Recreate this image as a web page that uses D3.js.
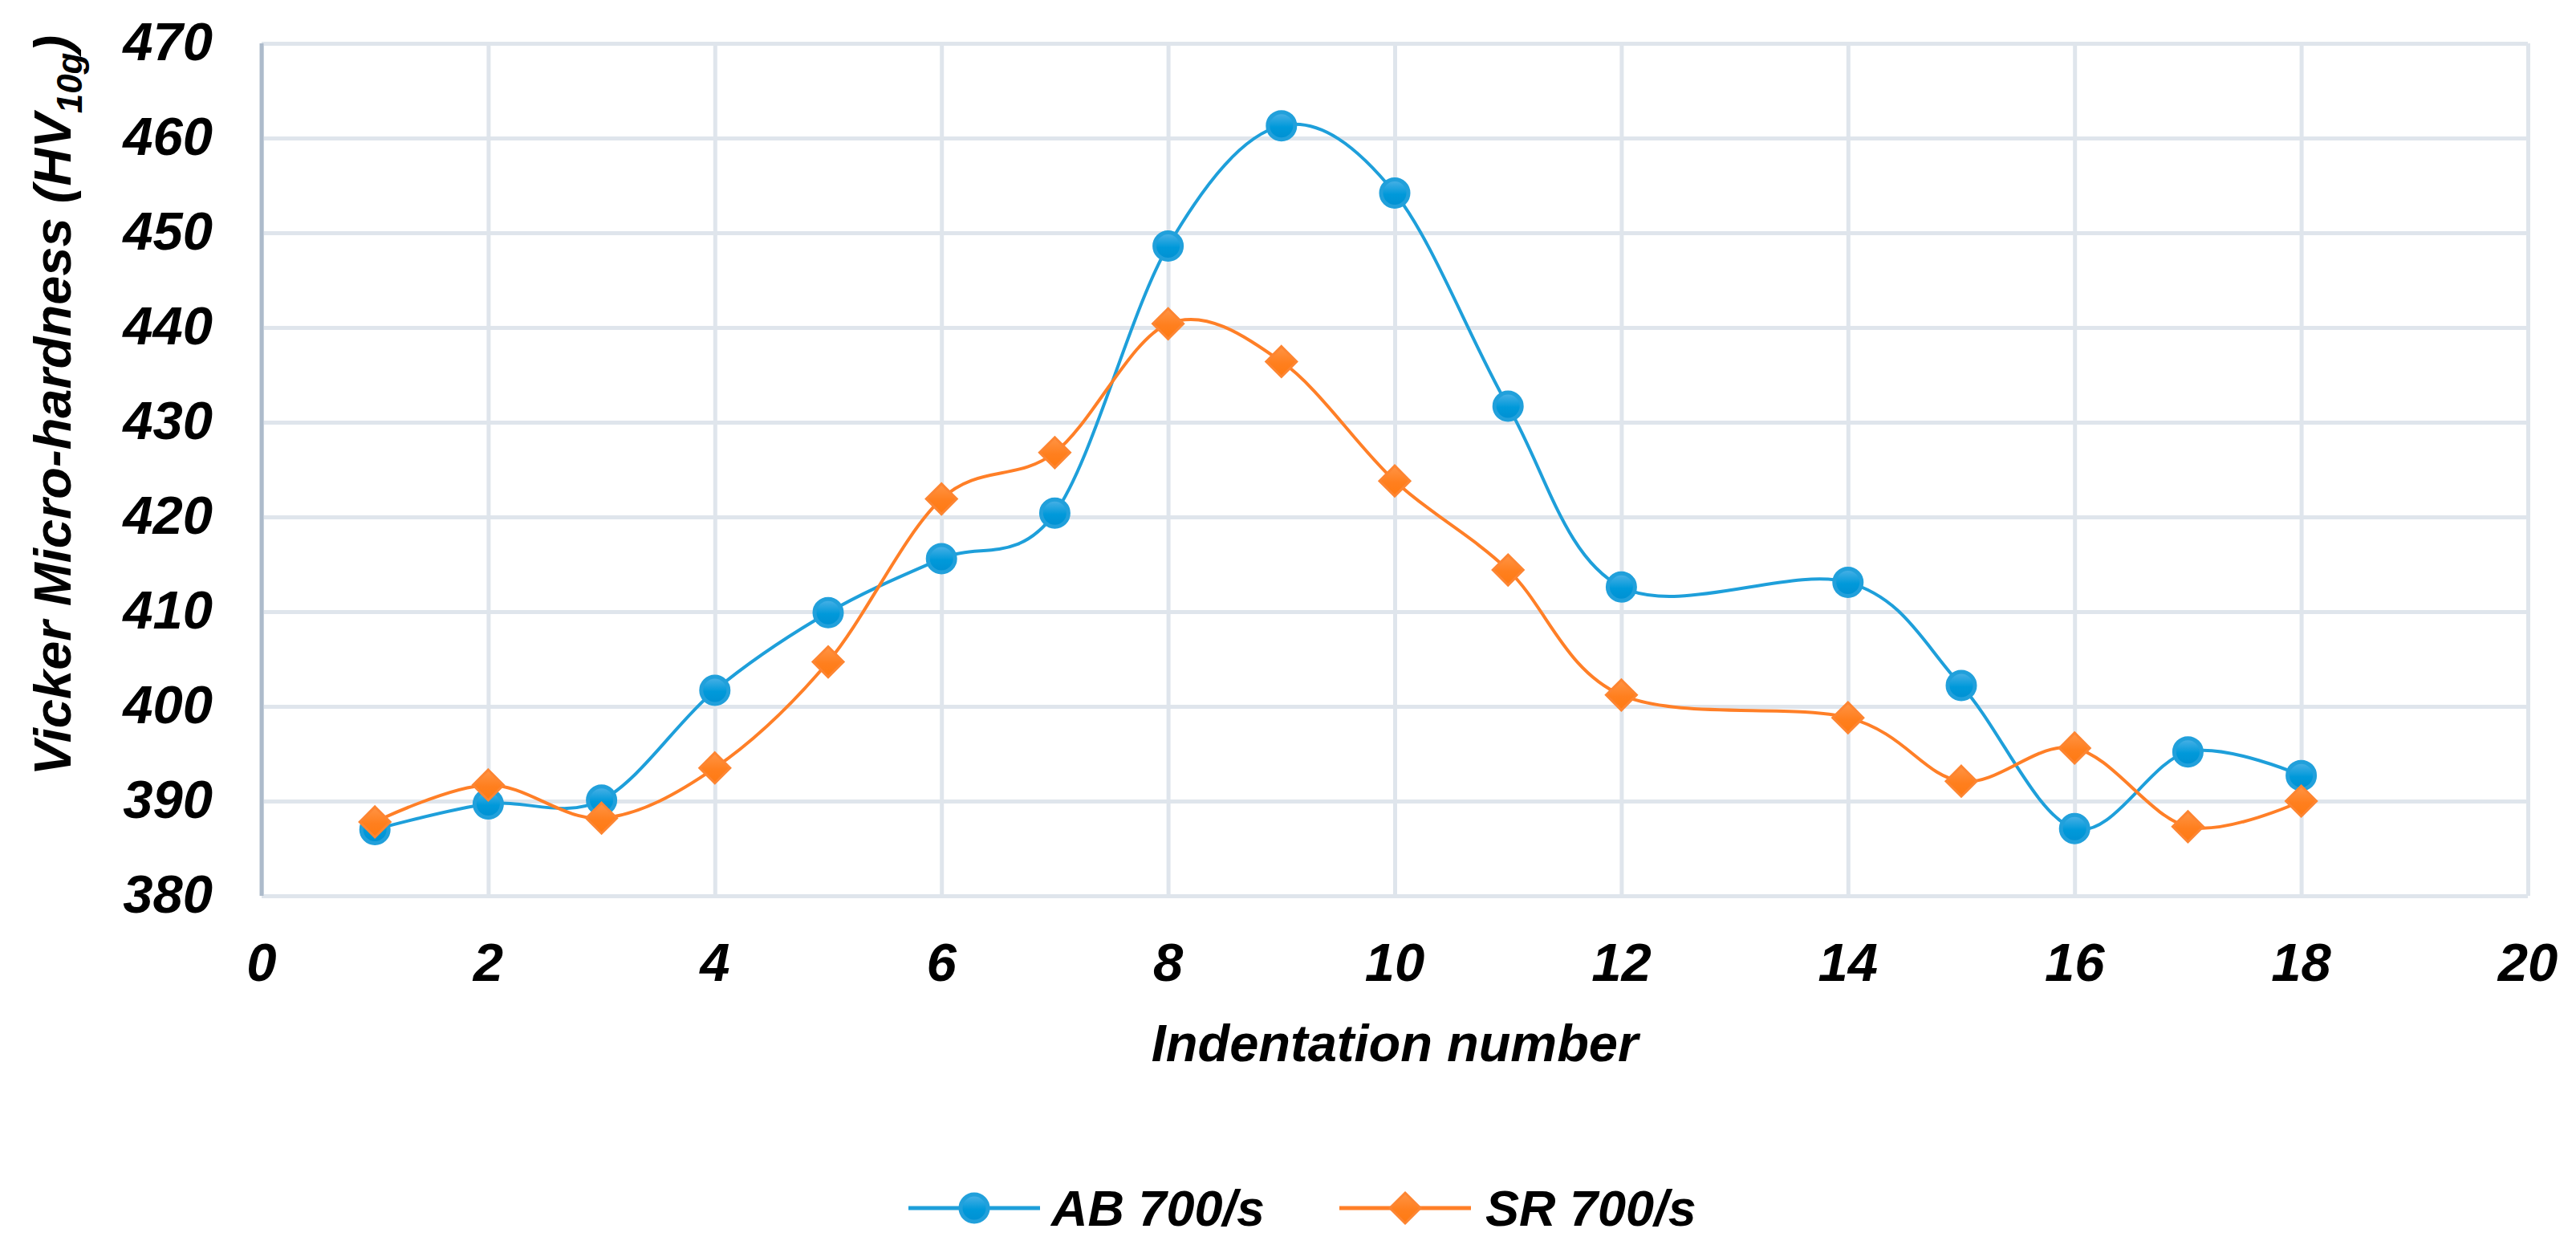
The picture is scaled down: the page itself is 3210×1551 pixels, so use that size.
<!DOCTYPE html>
<html>
<head>
<meta charset="utf-8">
<script src="https://cdn.jsdelivr.net/npm/d3@7"></script>
<style>
  body { margin: 0; background: #fff; }
  text { font-family: "Liberation Sans", Arial, sans-serif; font-style: italic; font-weight: bold; fill: #000; }
</style>
</head>
<body>
<div id="chart"></div>
<script>
// indentation numbers (13 is missing in the measurements)
const indentations = [1, 2, 3, 4, 5, 6, 7, 8, 9, 10, 11, 12, 14, 15, 16, 17, 18];
const abValues = [387.0, 389.7, 390.1, 401.7, 409.9, 415.6, 420.4, 448.6, 461.3, 454.2, 431.7, 412.6, 413.1, 402.2, 387.1, 395.2, 392.7];
const srValues = [387.8, 391.7, 388.2, 393.5, 404.7, 421.9, 426.8, 440.4, 436.4, 423.8, 414.4, 401.2, 398.8, 392.1, 395.6, 387.3, 390.0];
const seriesNames = ["AB 700/s", "SR 700/s"];
const xTicks = [0, 2, 4, 6, 8, 10, 12, 14, 16, 18, 20];
const yTicks = [380, 390, 400, 410, 420, 430, 440, 450, 460, 470];

const width = 3210, height = 1551;
const margin = { top: 54, right: 60, bottom: 435, left: 326 };

const x = d3.scaleLinear().domain([0, 20]).range([margin.left, width - margin.right]);
const y = d3.scaleLinear().domain([380, 470]).range([height - margin.bottom, margin.top]);

const svg = d3.select("#chart").append("svg")
  .attr("width", width)
  .attr("height", height);

// gradients for the markers
const defs = svg.append("defs");
const gb = defs.append("linearGradient").attr("id", "gBlue").attr("x1", 0).attr("y1", 0).attr("x2", 0).attr("y2", 1);
gb.append("stop").attr("offset", "0%").attr("stop-color", "#4fb2e6");
gb.append("stop").attr("offset", "55%").attr("stop-color", "#0099da");
gb.append("stop").attr("offset", "100%").attr("stop-color", "#0090d2");
const go = defs.append("linearGradient").attr("id", "gOrange").attr("x1", 0).attr("y1", 0).attr("x2", 0).attr("y2", 1);
go.append("stop").attr("offset", "0%").attr("stop-color", "#ff9445");
go.append("stop").attr("offset", "55%").attr("stop-color", "#ff7f1e");
go.append("stop").attr("offset", "100%").attr("stop-color", "#ff7a12");

const gridColor = "#dfe5ec";

// horizontal gridlines
svg.append("g")
  .attr("transform", `translate(${margin.left},0)`)
  .call(d3.axisLeft(y).tickValues(yTicks).tickSize(-(width - margin.right - margin.left)).tickFormat(""))
  .call(g => g.select(".domain").remove())
  .call(g => g.selectAll("line").attr("stroke", gridColor).attr("stroke-width", 5));

// vertical gridlines
svg.append("g")
  .attr("transform", `translate(0,${height - margin.bottom})`)
  .call(d3.axisBottom(x).tickValues(xTicks).tickSize(-(height - margin.bottom - margin.top)).tickFormat(""))
  .call(g => g.select(".domain").remove())
  .call(g => g.selectAll("line").attr("stroke", gridColor).attr("stroke-width", 5));

// left axis line
svg.append("line")
  .attr("x1", x(0)).attr("x2", x(0))
  .attr("y1", y(470)).attr("y2", y(380))
  .attr("stroke", "#adbbcb").attr("stroke-width", 5);

// y tick labels
svg.append("g")
  .selectAll("text")
  .data(yTicks)
  .join("text")
  .attr("x", 265)
  .attr("y", d => y(d) + 21)
  .attr("text-anchor", "end")
  .attr("font-size", 67)
  .text(d => d);

// x tick labels
svg.append("g")
  .selectAll("text")
  .data(xTicks)
  .join("text")
  .attr("x", d => x(d))
  .attr("y", 1222)
  .attr("text-anchor", "middle")
  .attr("font-size", 67)
  .text(d => d);

// axis titles
svg.append("text")
  .attr("x", (x(0) + x(20)) / 2)
  .attr("y", 1322)
  .attr("text-anchor", "middle")
  .attr("font-size", 65)
  .text("Indentation number");

const yTitle = svg.append("text")
  .attr("transform", "translate(88,505) rotate(-90)")
  .attr("text-anchor", "middle")
  .attr("font-size", 65);
yTitle.append("tspan").text("Vicker Micro-hardness (HV");
yTitle.append("tspan").attr("font-size", 44).attr("dy", 14).text("10g");
yTitle.append("tspan").attr("dy", -14).text(")");

const series = [
  { name: seriesNames[0], values: abValues, color: "#1e9fda", marker: "circle" },
  { name: seriesNames[1], values: srValues, color: "#ff7f27", marker: "diamond" }
];

const line = d3.line()
  .x(d => x(d[0]))
  .y(d => y(d[1]))
  .curve(d3.curveCatmullRom.alpha(0));

function drawMarker(g, type, cx, cy) {
  if (type === "circle") {
    g.append("ellipse")
      .attr("cx", cx).attr("cy", cy)
      .attr("rx", 17).attr("ry", 17)
      .attr("fill", "url(#gBlue)")
      .attr("stroke", "#21a0db").attr("stroke-width", 5);
  } else {
    const r = 19;
    g.append("path")
      .attr("d", `M${cx},${cy - r}L${cx + r},${cy}L${cx},${cy + r}L${cx - r},${cy}Z`)
      .attr("fill", "url(#gOrange)")
      .attr("stroke", "#fd8532").attr("stroke-width", 3)
      .attr("stroke-linejoin", "miter");
  }
}

series.forEach(s => {
  const pts = indentations.map((d, i) => [d, s.values[i]]);
  svg.append("path")
    .attr("d", line(pts))
    .attr("fill", "none")
    .attr("stroke", s.color)
    .attr("stroke-width", 4);
});

series.forEach(s => {
  const g = svg.append("g");
  indentations.forEach((d, i) => drawMarker(g, s.marker, x(d), y(s.values[i])));
});

// legend
const legendY = 1505;
const legendItems = [
  { lx: 1132, tx: 1310 },
  { lx: 1669, tx: 1851 }
];
series.forEach((s, i) => {
  const g = svg.append("g");
  const it = legendItems[i];
  g.append("line")
    .attr("x1", it.lx).attr("x2", it.lx + 164)
    .attr("y1", legendY).attr("y2", legendY)
    .attr("stroke", s.color).attr("stroke-width", 5);
  drawMarker(g, s.marker, it.lx + 82, legendY);
  g.append("text")
    .attr("x", it.tx)
    .attr("y", legendY + 22)
    .attr("font-size", 63)
    .text(s.name);
});
</script>
</body>
</html>
